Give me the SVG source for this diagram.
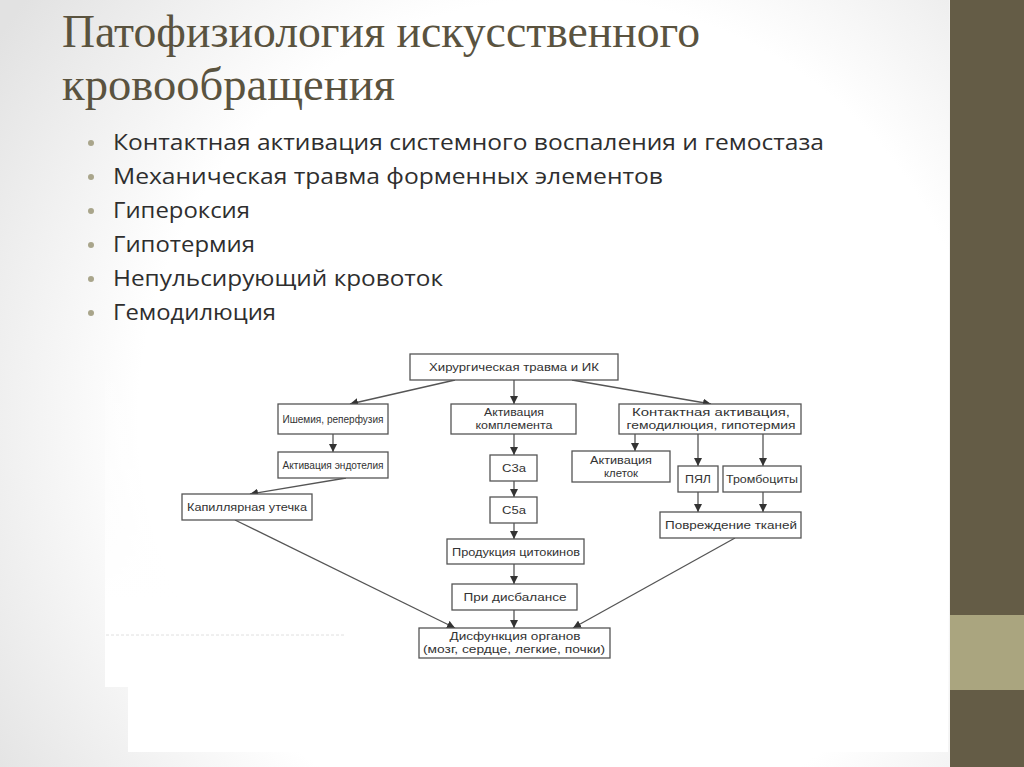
<svg xmlns="http://www.w3.org/2000/svg" width="1024" height="767" viewBox="0 0 1024 767">
<defs>
<radialGradient id="bg" cx="560" cy="420" r="680" gradientUnits="userSpaceOnUse">
<stop offset="0" stop-color="#ffffff"/>
<stop offset="0.62" stop-color="#ffffff"/>
<stop offset="1" stop-color="#e2e2e2"/>
</radialGradient>
<linearGradient id="wfade" x1="0" y1="338" x2="0" y2="600" gradientUnits="userSpaceOnUse">
<stop offset="0" stop-color="#ffffff" stop-opacity="0"/>
<stop offset="1" stop-color="#ffffff" stop-opacity="1"/>
</linearGradient>
<marker id="ah" viewBox="0 0 10 10" refX="10" refY="5" markerWidth="8" markerHeight="8" markerUnits="userSpaceOnUse" orient="auto">
<path d="M0,0 L10,5 L0,10 Z" fill="#333"/>
</marker>
<style>
.title{font-family:"Liberation Serif","DejaVu Serif",serif;font-size:47px;fill:#5a533f}
.bul{font-family:"Open Sans","Noto Sans",sans-serif;font-size:22px;fill:#2e2e2e}
.dot{fill:#a9a58b}
.box rect{fill:#ffffff;stroke:#555;stroke-width:1.3}
.box text{font-family:"Liberation Sans",Arial,sans-serif;font-size:11.5px;fill:#333;text-anchor:middle}
#connectors line{stroke:#555;stroke-width:1.3;marker-end:url(#ah)}
</style>
</defs>
<rect x="0" y="0" width="1024" height="767" fill="url(#bg)"/>
<path d="M105,338 L948,338 L948,752 L128,752 L128,687 L105,687 Z" fill="url(#wfade)"/>
<line x1="106" y1="635" x2="345" y2="635" stroke="#e0e0e0" stroke-width="1" stroke-dasharray="3 2"/>
<rect x="950" y="0" width="74" height="767" fill="#645c46"/>
<rect x="950" y="615" width="74" height="75" fill="#aaa57f"/>
<line x1="949.5" y1="0" x2="949.5" y2="767" stroke="#f4f4f4" stroke-width="1"/>

<text class="title" x="62" y="47" textLength="638" lengthAdjust="spacingAndGlyphs">Патофизиология искусственного</text>
<text class="title" x="62" y="100" textLength="333" lengthAdjust="spacingAndGlyphs">кровообращения</text>

<circle class="dot" cx="91" cy="143" r="3"/>
<circle class="dot" cx="91" cy="177" r="3"/>
<circle class="dot" cx="91" cy="211" r="3"/>
<circle class="dot" cx="91" cy="245" r="3"/>
<circle class="dot" cx="91" cy="279" r="3"/>
<circle class="dot" cx="91" cy="313" r="3"/>
<text class="bul" x="113" y="150" textLength="711" lengthAdjust="spacingAndGlyphs">Контактная активация системного воспаления и гемостаза</text>
<text class="bul" x="113" y="184" textLength="550" lengthAdjust="spacingAndGlyphs">Механическая травма форменных элементов</text>
<text class="bul" x="113" y="218" textLength="137" lengthAdjust="spacingAndGlyphs">Гипероксия</text>
<text class="bul" x="113" y="252" textLength="142" lengthAdjust="spacingAndGlyphs">Гипотермия</text>
<text class="bul" x="113" y="286" textLength="330" lengthAdjust="spacingAndGlyphs">Непульсирующий кровоток</text>
<text class="bul" x="113" y="320" textLength="163" lengthAdjust="spacingAndGlyphs">Гемодилюция</text>

<g id="connectors">
<line x1="455" y1="380" x2="350" y2="404"/>
<line x1="514" y1="380" x2="514" y2="404"/>
<line x1="572" y1="380" x2="711" y2="404"/>
<line x1="333" y1="434" x2="333" y2="452"/>
<line x1="514" y1="434" x2="514" y2="455"/>
<line x1="635" y1="434" x2="635" y2="451"/>
<line x1="698" y1="434" x2="698" y2="466"/>
<line x1="763" y1="434" x2="763" y2="466"/>
<line x1="346" y1="478" x2="250" y2="494"/>
<line x1="514" y1="481" x2="514" y2="497"/>
<line x1="514" y1="523" x2="514" y2="539"/>
<line x1="514" y1="564" x2="514" y2="584"/>
<line x1="514" y1="610" x2="514" y2="628"/>
<line x1="698" y1="492" x2="698" y2="512"/>
<line x1="763" y1="492" x2="763" y2="512"/>
<line x1="235" y1="520" x2="455" y2="628"/>
<line x1="735" y1="538" x2="573" y2="628"/>
</g>

<g id="n-top" class="box"><rect x="410" y="354" width="208" height="26"/><text x="514" y="371" textLength="170" lengthAdjust="spacingAndGlyphs">Хирургическая травма и ИК</text></g>
<g id="n-ishemia" class="box"><rect x="278" y="404" width="110" height="30"/><text x="333" y="423" textLength="101" lengthAdjust="spacingAndGlyphs">Ишемия, реперфузия</text></g>
<g id="n-compl" class="box"><rect x="451" y="404" width="125" height="30"/><text x="514" y="416" textLength="60" lengthAdjust="spacingAndGlyphs">Активация</text><text x="514" y="429" textLength="77" lengthAdjust="spacingAndGlyphs">комплемента</text></g>
<g id="n-contact" class="box"><rect x="619" y="404" width="182" height="30"/><text x="711" y="416" textLength="158" lengthAdjust="spacingAndGlyphs">Контактная активация,</text><text x="711" y="429" textLength="169" lengthAdjust="spacingAndGlyphs">гемодилюция, гипотермия</text></g>
<g id="n-endo" class="box"><rect x="278" y="452" width="110" height="26"/><text x="333" y="469" textLength="101" lengthAdjust="spacingAndGlyphs">Активация эндотелия</text></g>
<g id="n-c3a" class="box"><rect x="490" y="455" width="47" height="26"/><text x="514" y="472" textLength="24" lengthAdjust="spacingAndGlyphs">С3а</text></g>
<g id="n-cells" class="box"><rect x="572" y="451" width="98" height="31"/><text x="621" y="464" textLength="62" lengthAdjust="spacingAndGlyphs">Активация</text><text x="621" y="477" textLength="34" lengthAdjust="spacingAndGlyphs">клеток</text></g>
<g id="n-pyal" class="box"><rect x="678" y="466" width="40" height="26"/><text x="698" y="483" textLength="26" lengthAdjust="spacingAndGlyphs">ПЯЛ</text></g>
<g id="n-tromb" class="box"><rect x="723" y="466" width="78" height="26"/><text x="762" y="483" textLength="72" lengthAdjust="spacingAndGlyphs">Тромбоциты</text></g>
<g id="n-cap" class="box"><rect x="182" y="494" width="130" height="26"/><text x="247" y="511" textLength="120" lengthAdjust="spacingAndGlyphs">Капиллярная утечка</text></g>
<g id="n-c5a" class="box"><rect x="490" y="497" width="47" height="26"/><text x="514" y="514" textLength="24" lengthAdjust="spacingAndGlyphs">С5а</text></g>
<g id="n-damage" class="box"><rect x="660" y="512" width="141" height="26"/><text x="731" y="529" textLength="132" lengthAdjust="spacingAndGlyphs">Повреждение тканей</text></g>
<g id="n-cyto" class="box"><rect x="447" y="539" width="137" height="25"/><text x="516" y="556" textLength="128" lengthAdjust="spacingAndGlyphs">Продукция цитокинов</text></g>
<g id="n-disb" class="box"><rect x="452" y="584" width="125" height="26"/><text x="515" y="601" textLength="103" lengthAdjust="spacingAndGlyphs">При дисбалансе</text></g>
<g id="n-organs" class="box"><rect x="419" y="628" width="191" height="30"/><text x="515" y="640" textLength="131" lengthAdjust="spacingAndGlyphs">Дисфункция органов</text><text x="514" y="653" textLength="182" lengthAdjust="spacingAndGlyphs">(мозг, сердце, легкие, почки)</text></g>
</svg>
